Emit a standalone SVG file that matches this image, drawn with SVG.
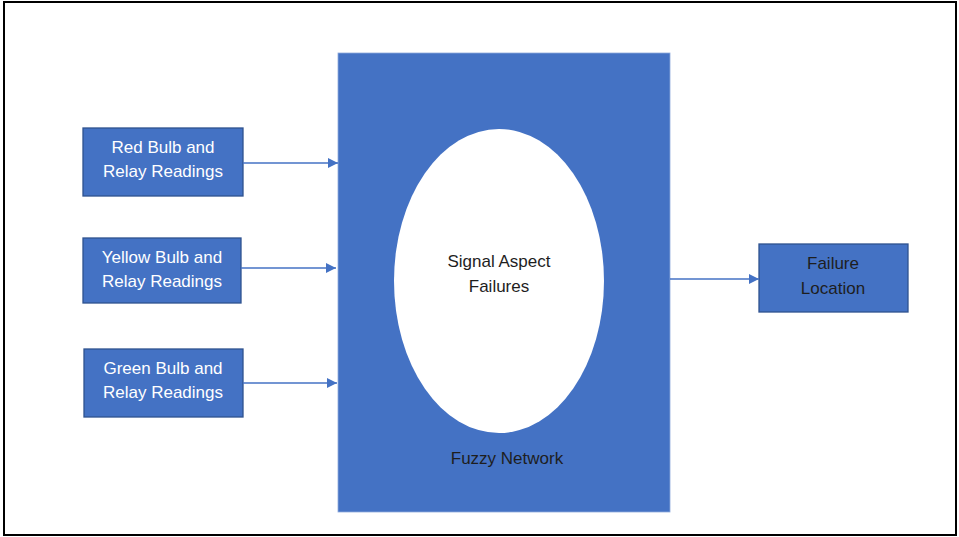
<svg xmlns="http://www.w3.org/2000/svg" width="959" height="537" viewBox="0 0 959 537">
  <style>
    .box { fill: #4472C4; stroke: #2F528F; stroke-width: 1.3; }
    .lbl { font-family: "Liberation Sans", Arial, sans-serif; font-size: 17px; text-anchor: middle; }
    .light { fill: #FFFFFF; }
    .dark { fill: #1E1E1E; }
    .conn { stroke: #4472C4; stroke-width: 1.5; fill: none; marker-end: url(#arrow); }
  </style>
  <defs>
    <marker id="arrow" viewBox="0 0 10 10" refX="10" refY="5" markerWidth="10" markerHeight="10" markerUnits="userSpaceOnUse" orient="auto">
      <path d="M0,0 L10,5 L0,10 Z" fill="#4472C4"/>
    </marker>
  </defs>

  <!-- page frame -->
  <rect x="0" y="0" width="959" height="537" fill="#FFFFFF"/>
  <rect x="4" y="2" width="952" height="533" fill="#FFFFFF" stroke="#000000" stroke-width="2"/>

  <!-- central fuzzy network block -->
  <g id="fuzzy-network">
    <rect x="338" y="53" width="332" height="459" fill="#4472C4" stroke="#8FAADC" stroke-width="0.8"/>
    <text class="lbl dark" x="507" y="464">Fuzzy Network</text>
  </g>

  <g id="signal-aspect-failures">
    <ellipse cx="499" cy="281" rx="105" ry="152" fill="#FFFFFF"/>
    <text class="lbl dark" x="499" y="267">Signal Aspect</text>
    <text class="lbl dark" x="499" y="292">Failures</text>
  </g>

  <g id="red-input">
    <rect class="box" x="83" y="128" width="160" height="68"/>
    <text class="lbl light" x="163" y="153">Red Bulb and</text>
    <text class="lbl light" x="163" y="177">Relay Readings</text>
  </g>

  <g id="yellow-input">
    <rect class="box" x="83" y="238" width="158" height="65"/>
    <text class="lbl light" x="162" y="263">Yellow Bulb and</text>
    <text class="lbl light" x="162" y="287">Relay Readings</text>
  </g>

  <g id="green-input">
    <rect class="box" x="84" y="349" width="159" height="68"/>
    <text class="lbl light" x="163" y="374">Green Bulb and</text>
    <text class="lbl light" x="163" y="398">Relay Readings</text>
  </g>

  <g id="failure-location">
    <rect class="box" x="759" y="244" width="149" height="68"/>
    <text class="lbl dark" x="833" y="269">Failure</text>
    <text class="lbl dark" x="833" y="294">Location</text>
  </g>

  <g id="connectors">
    <line class="conn" x1="243" y1="163" x2="338" y2="163"/>
    <line class="conn" x1="241" y1="268" x2="336" y2="268"/>
    <line class="conn" x1="243" y1="383" x2="337" y2="383"/>
    <line class="conn" x1="670" y1="279" x2="759" y2="279"/>
  </g>
</svg>
